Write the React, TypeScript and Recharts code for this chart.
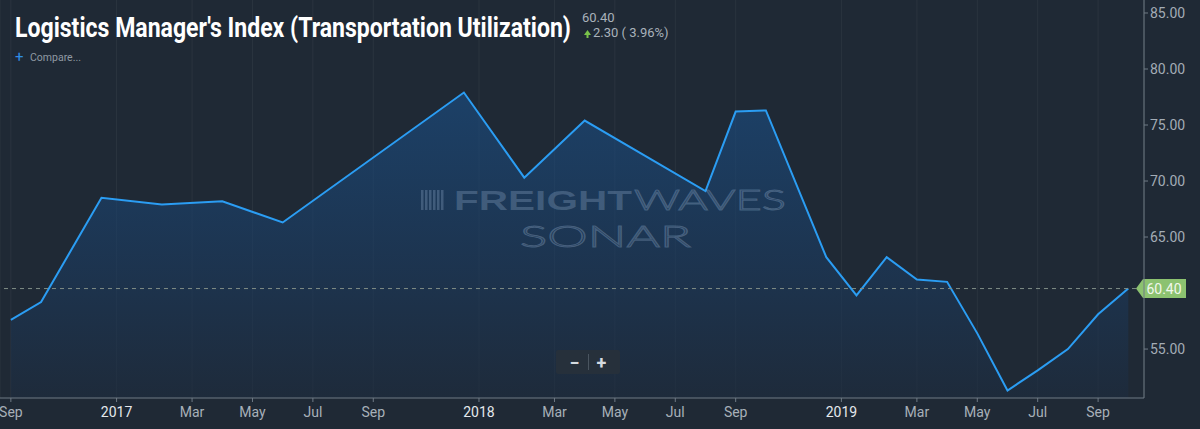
import React, { useLayoutEffect, useRef, useState } from "react";
import {
  AreaChart,
  Area,
  XAxis,
  YAxis,
  CartesianGrid,
  ReferenceLine,
} from "recharts";

// LMI transportation utilization readings (months without a visible vertex are omitted)
const months = [
  "2016-09", "2016-10", "2016-12", "2017-02", "2017-04", "2017-06",
  "2017-12", "2018-02", "2018-04", "2018-08", "2018-09", "2018-10",
  "2018-12", "2019-01", "2019-02", "2019-03", "2019-04", "2019-05",
  "2019-06", "2019-07", "2019-08", "2019-09", "2019-10",
];
const values = [
  57.6, 59.2, 68.5, 67.9, 68.2, 66.3,
  77.9, 70.3, 75.4, 69.1, 76.2, 76.3,
  63.2, 59.8, 63.2, 61.2, 61.0, 56.4,
  51.3, 53.1, 55.0, 58.1, 60.4,
];

const tickMonths = [
  "2016-09", "2017-01", "2017-03", "2017-05", "2017-07", "2017-09",
  "2018-01", "2018-03", "2018-05", "2018-07", "2018-09",
  "2019-01", "2019-03", "2019-05", "2019-07", "2019-09",
];
const tickLabels = [
  "Sep", "2017", "Mar", "May", "Jul", "Sep",
  "2018", "Mar", "May", "Jul", "Sep",
  "2019", "Mar", "May", "Jul", "Sep",
];
// 60.00 sits under the last-value flag, so it is left out
const yTicks = [55, 65, 70, 75, 80, 85];

const title = "Logistics Manager's Index (Transportation Utilization)";
const lastValue = 60.4;
const change = 2.3;
const changePct = 3.96;

const monthIndex = (m: string) => {
  const [y, mo] = m.split("-").map(Number);
  return (y - 2016) * 12 + mo - 9;
};

// year labels sit half a month before January, as in the source chart
const tickPos = tickMonths.map((m, i) =>
  /^\d{4}$/.test(tickLabels[i]) ? monthIndex(m) - 0.5 : monthIndex(m)
);
const labelAt = new Map(tickPos.map((p, i) => [p, tickLabels[i]]));

const data = months.map((m, i) => ({ x: monthIndex(m), value: values[i] }));

const BG = "#1f2935";
const FONT = "Roboto, sans-serif";

const XTick = (props: any) => {
  const { x, y, payload } = props;
  const label = labelAt.get(payload.value) ?? "";
  const isYear = /^\d{4}$/.test(label);
  return (
    <text
      x={x}
      y={y + 13}
      textAnchor="middle"
      fontSize={14}
      fontFamily={FONT}
      fill={isYear ? "#e4e8ec" : "#a7b0b9"}
    >
      {label}
    </text>
  );
};

const PriceFlag = (props: any) => {
  const { viewBox } = props;
  const y = viewBox.y;
  const x0 = 1136;
  return (
    <g>
      <polygon
        points={`${x0},${y} ${x0 + 7},${y - 9.5} ${x0 + 50},${y - 9.5} ${x0 + 50},${y + 9.5} ${x0 + 7},${y + 9.5}`}
        fill="#8cc270"
      />
      <text
        x={x0 + 28}
        y={y + 5}
        textAnchor="middle"
        fontSize={14}
        fontFamily={FONT}
        fill="#f1f8ec"
      >
        {lastValue.toFixed(2)}
      </text>
    </g>
  );
};

// condensed bold title: measure natural width, squeeze to the source width
function Title() {
  const ref = useRef<SVGTextElement>(null);
  const [sx, setSx] = useState(0.75);
  useLayoutEffect(() => {
    if (ref.current) {
      const w = ref.current.getComputedTextLength();
      if (w > 0) setSx(556 / w);
    }
  }, []);
  return (
    <g transform={`translate(15 37) scale(${sx} 1)`}>
      <text
        ref={ref}
        x={0}
        y={0}
        fontSize={28}
        fontWeight={700}
        fontFamily={FONT}
        fill="#ffffff"
      >
        {title}
      </text>
    </g>
  );
}

export default function App() {
  return (
    <div
      style={{
        position: "absolute",
        left: 0,
        top: 0,
        width: 1200,
        height: 429,
        background: BG,
        overflow: "hidden",
      }}
    >
      <AreaChart
        width={1200}
        height={429}
        data={data}
        margin={{ top: 0, right: 0, bottom: 0, left: 0 }}
      >
        <defs>
          <linearGradient id="lmiFill" x1="0" y1="0" x2="0" y2="1">
            <stop offset="0%" stopColor="#1a5089" stopOpacity={1} />
            <stop offset="55%" stopColor="#1b3c62" stopOpacity={1} />
            <stop offset="100%" stopColor="#1d2c3f" stopOpacity={1} />
          </linearGradient>
        </defs>
        <CartesianGrid
          horizontal={false}
          stroke="#ffffff"
          strokeOpacity={0.05}
        />
        <XAxis
          dataKey="x"
          type="number"
          domain={[-0.36, 37.52]}
          allowDataOverflow
          ticks={tickPos}
          interval={0}
          height={31}
          tick={<XTick />}
          tickSize={4}
          axisLine={{ stroke: "#6f7a85" }}
          tickLine={{ stroke: "#6f7a85" }}
        />
        <YAxis
          orientation="right"
          type="number"
          domain={[50.63, 86.16]}
          allowDataOverflow
          ticks={yTicks}
          width={56}
          tickSize={4}
          tickMargin={2}
          tickFormatter={(v: number) => v.toFixed(2)}
          tick={{ fill: "#a3acb5", fontSize: 14, fontFamily: FONT }}
          axisLine={{ stroke: "#6f7a85" }}
          tickLine={{ stroke: "#6f7a85" }}
        />
        <Area
          type="linear"
          dataKey="value"
          stroke="#2b9df3"
          strokeWidth={2}
          fill="url(#lmiFill)"
          baseValue="dataMin"
          isAnimationActive={false}
          dot={false}
          activeDot={false}
        />
        <ReferenceLine
          y={lastValue}
          stroke="#7f8c86"
          strokeDasharray="4 4"
          label={<PriceFlag />}
          ifOverflow="visible"
        />
      </AreaChart>

      <svg
        width={1200}
        height={429}
        style={{ position: "absolute", left: 0, top: 0, pointerEvents: "none" }}
      >
        {/* watermark */}
        <g fill="#9fb8d6" fillOpacity={0.28}>
          {[0, 4, 8, 12, 16, 20].map((dx) => (
            <rect key={dx} x={421 + dx} y={190} width={2.5} height={20} />
          ))}
          <text
            x={454}
            y={210}
            fontSize={28}
            fontWeight={900}
            fontFamily="'Liberation Sans', Arial, sans-serif"
            textLength={178}
            lengthAdjust="spacingAndGlyphs"
          >
            FREIGHT
          </text>
        </g>
        <text
          x={634}
          y={210}
          fontSize={28}
          fontWeight={300}
          fontFamily="Lato, sans-serif"
          fill="none"
          stroke="#9fb8d6"
          strokeOpacity={0.32}
          strokeWidth={1}
          textLength={152}
          lengthAdjust="spacingAndGlyphs"
        >
          WAVES
        </text>
        <text
          x={520}
          y={247}
          fontSize={30}
          fontWeight={300}
          fontFamily="Lato, sans-serif"
          fill="none"
          stroke="#9fb8d6"
          strokeOpacity={0.32}
          strokeWidth={1}
          textLength={171}
          lengthAdjust="spacingAndGlyphs"
        >
          SONAR
        </text>

        {/* title block */}
        <Title />
        <text x={582} y={22} fontSize={13} fontFamily={FONT} fill="#a9b2bb">
          {lastValue.toFixed(2)}
        </text>
        <polygon points="584,35 587.5,30 591,35" fill="#79c24a" />
        <rect x={586.5} y={34} width={2} height={4} fill="#79c24a" />
        <text x={593} y={37} fontSize={13} fontFamily={FONT} fill="#a9b2bb">
          {`${change.toFixed(2)} ( ${changePct.toFixed(2)}%)`}
        </text>
        <text x={15} y={62} fontSize={15} fontFamily={FONT} fill="#2f8ee6">
          +
        </text>
        <text x={30} y={61} fontSize={10.5} fontFamily={FONT} fill="#8f99a3">
          Compare...
        </text>
      </svg>

      {/* zoom buttons */}
      <div
        style={{
          position: "absolute",
          left: 556,
          top: 350,
          width: 64,
          height: 24,
          background: "#26303b",
          borderRadius: 2,
          display: "flex",
          alignItems: "center",
          justifyContent: "center",
          color: "#d5dbe0",
          fontFamily: FONT,
          fontWeight: 700,
          fontSize: 18,
        }}
      >
        <span style={{ width: 26, textAlign: "center" }}>−</span>
        <span style={{ width: 1, height: 16, background: "#4a5560" }} />
        <span style={{ width: 26, textAlign: "center" }}>+</span>
      </div>
    </div>
  );
}
